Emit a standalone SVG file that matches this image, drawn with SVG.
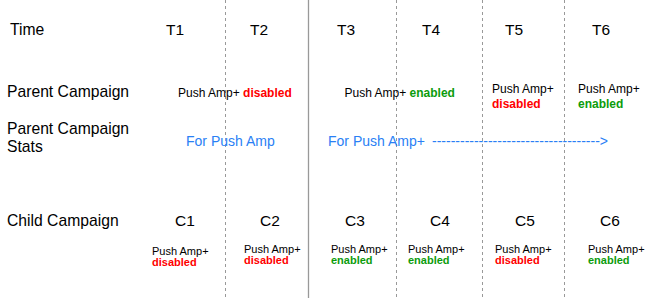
<svg xmlns="http://www.w3.org/2000/svg" width="667" height="298" viewBox="0 0 667 298">
<style>
text{font-family:"Liberation Sans",Arial,sans-serif;fill:#000}
.lbl{font-size:15.7px}
.hd{font-size:15.5px}
.s12{font-size:12px}
.s11{font-size:11px}
.b{font-weight:bold}
.red{fill:#ff0000}
.grn{fill:#0c9c0c}
.blue{fill:#2a7ff5;font-size:14px}
.dash{stroke:#999;stroke-width:1;stroke-dasharray:3,3}
.solid{stroke:#999;stroke-width:1.3}
</style>
<rect width="667" height="298" fill="#fff"/>
<g id="connectors">
<line class="dash" x1="225.5" y1="0" x2="225.5" y2="298"/>
<line class="solid" x1="308.5" y1="0" x2="308.5" y2="298"/>
<line class="dash" x1="396.5" y1="0" x2="396.5" y2="298"/>
<line class="dash" x1="482.5" y1="0" x2="482.5" y2="298"/>
<line class="dash" x1="564.5" y1="0" x2="564.5" y2="298"/>
</g>
<g id="row-labels">
<text class="lbl" x="10" y="35">Time</text>
<text class="lbl" x="7" y="97">Parent Campaign</text>
<text class="lbl" x="7" y="134">Parent Campaign</text>
<text class="lbl" x="7" y="152">Stats</text>
<text class="lbl" x="7" y="226">Child Campaign</text>
</g>
<g id="times">
<text class="hd" x="166" y="35">T1</text>
<text class="hd" x="250" y="35">T2</text>
<text class="hd" x="337" y="35">T3</text>
<text class="hd" x="422" y="35">T4</text>
<text class="hd" x="505" y="35">T5</text>
<text class="hd" x="592" y="35">T6</text>
</g>
<g id="parent">
<text class="s12" x="178" y="97">Push Amp+ <tspan class="b red">disabled</tspan></text>
<text class="s12" x="344.5" y="97">Push Amp+ <tspan class="b grn">enabled</tspan></text>
<text class="s12" x="492" y="93">Push Amp+</text>
<text class="s12 b red" x="492" y="108">disabled</text>
<text class="s12" x="578" y="93">Push Amp+</text>
<text class="s12 b grn" x="578" y="108">enabled</text>
</g>
<g id="stats">
<text class="blue" x="186" y="146">For Push Amp</text>
<text class="blue" x="328" y="146">For Push Amp+</text>
<text class="blue" x="432" y="146">------------------------------------&gt;</text>
</g>
<g id="children">
<text class="hd" x="175" y="226">C1</text>
<text class="hd" x="260" y="226">C2</text>
<text class="hd" x="345" y="226">C3</text>
<text class="hd" x="430" y="226">C4</text>
<text class="hd" x="515" y="226">C5</text>
<text class="hd" x="600" y="226">C6</text>
<text class="s11" x="152" y="255">Push Amp+</text>
<text class="s11 b red" x="152" y="266">disabled</text>
<text class="s11" x="244" y="252.5">Push Amp+</text>
<text class="s11 b red" x="244" y="263.5">disabled</text>
<text class="s11" x="331" y="252.5">Push Amp+</text>
<text class="s11 b grn" x="331" y="263.5">enabled</text>
<text class="s11" x="408" y="252.5">Push Amp+</text>
<text class="s11 b grn" x="408" y="263.5">enabled</text>
<text class="s11" x="495" y="252.5">Push Amp+</text>
<text class="s11 b red" x="495" y="263.5">disabled</text>
<text class="s11" x="588" y="252.5">Push Amp+</text>
<text class="s11 b grn" x="588" y="263.5">enabled</text>
</g>
</svg>
